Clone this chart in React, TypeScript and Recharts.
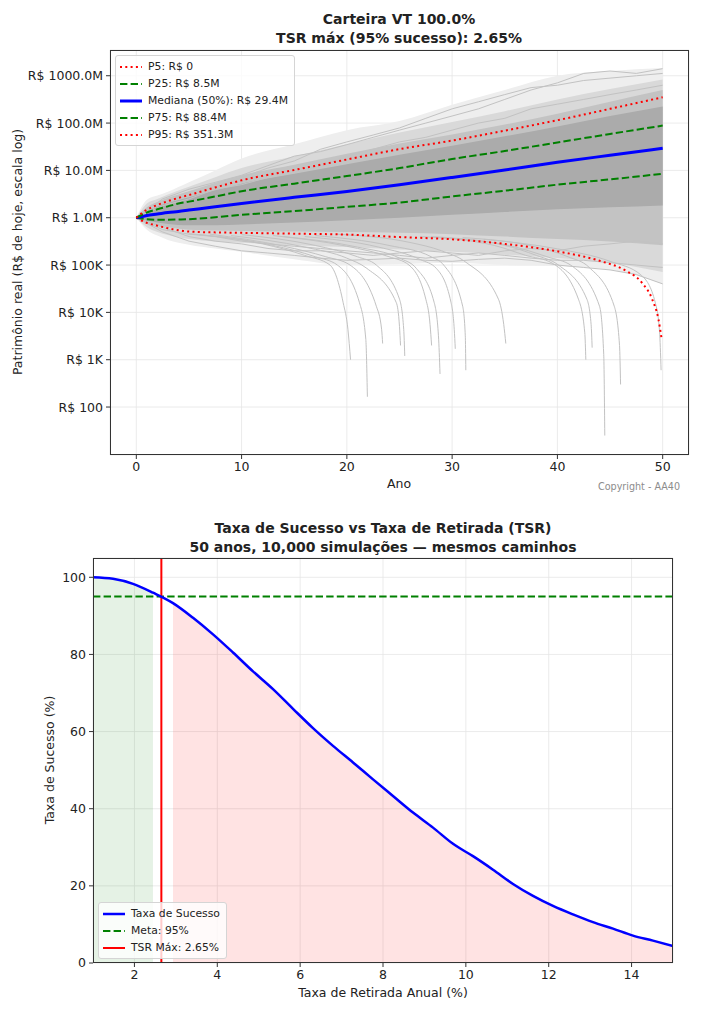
import {
  ComposedChart,
  Line,
  Area,
  XAxis,
  YAxis,
  CartesianGrid,
  Legend,
  ReferenceLine,
} from "recharts"

const FONT = "'DejaVu Sans', sans-serif"
const TEXT = "#222"

// ---------- top panel: simulated trajectories (R$ reais) ----------
const YEARS = [0, 1, 2, 3, 4, 5, 7.5, 10, 15, 20, 25, 30, 35, 40, 45, 50]
const P25 = [1.0e6, 0.93e6, 0.91e6, 0.91e6, 0.92e6, 0.93e6, 1.02e6, 1.15e6, 1.38e6, 1.7e6, 2.09e6, 2.82e6, 3.72e6, 5.0e6, 6.46e6, 8.5e6]
const MEDIAN = [1.0e6, 1.12e6, 1.2e6, 1.29e6, 1.36e6, 1.45e6, 1.7e6, 2.0e6, 2.7e6, 3.6e6, 5.0e6, 7.1e6, 10.2e6, 14.8e6, 20.9e6, 29.4e6]
const P75 = [1.0e6, 1.29e6, 1.51e6, 1.74e6, 2.0e6, 2.19e6, 2.82e6, 3.63e6, 5.25e6, 7.6e6, 11.2e6, 17.4e6, 25.7e6, 38.9e6, 58.9e6, 88.4e6]
const P95 = [1.0e6, 1.48e6, 1.86e6, 2.24e6, 2.63e6, 3.02e6, 4.37e6, 6.17e6, 10.2e6, 17.0e6, 28.2e6, 42.7e6, 69.2e6, 115e6, 200e6, 351.3e6]

const P5_YEARS = [0, 1, 2, 3, 5, 7.5, 10, 15, 20, 25, 30, 35, 40, 44, 46.5, 48, 49, 49.6, 49.9]
const P5 = [1.0e6, 0.78e6, 0.68e6, 0.6e6, 0.51e6, 0.49e6, 0.48e6, 0.46e6, 0.44e6, 0.39e6, 0.35e6, 0.28e6, 0.195e6, 0.123e6, 76e3, 43e3, 19e3, 7.1e3, 2.75e3]

// gray cloud of paths, from the sparse outer envelope to the dense core
const CLOUD_YEARS = [0, 1, 2, 3, 5, 7.5, 10, 15, 20, 25, 30, 35, 40, 45, 50]
const OUTER_HI = [1.0e6, 2.4e6, 2.95e6, 3.55e6, 5.6e6, 10e6, 17.8e6, 35.5e6, 70.8e6, 110e6, 245e6, 500e6, 1000e6, 1260e6, 1450e6]
const OUTER_LO = [1.0e6, 5.6e5, 4.2e5, 3.4e5, 2.7e5, 2.24e5, 1.9e5, 1.32e5, 1.0e5, 1.05e5, 1.12e5, 1.0e5, 0.95e5, 0.8e5, 0.4e5]
const WIDE_HI = [1.0e6, 2.0e6, 2.5e6, 3.1e6, 4.5e6, 7.2e6, 11.2e6, 20e6, 35.5e6, 63e6, 105e6, 178e6, 316e6, 525e6, 832e6]
const WIDE_LO = [1.0e6, 6.3e5, 5.0e5, 4.3e5, 3.55e5, 3.16e5, 2.95e5, 2.63e5, 2.4e5, 2.14e5, 1.9e5, 1.66e5, 1.41e5, 1.12e5, 7.1e4]
const DENSE_HI = [1.0e6, 1.66e6, 2.14e6, 2.63e6, 3.63e6, 5.5e6, 7.9e6, 13.2e6, 22.4e6, 37.2e6, 57.5e6, 93e6, 158e6, 282e6, 500e6]
const DENSE_LO = [1.0e6, 7.9e5, 6.9e5, 6.3e5, 5.6e5, 5.4e5, 5.25e5, 5.1e5, 5.0e5, 4.8e5, 4.5e5, 4.0e5, 3.55e5, 3.16e5, 2.63e5]
const CORE_HI = [1.0e6, 1.38e6, 1.74e6, 2.04e6, 2.7e6, 3.8e6, 5.25e6, 8.5e6, 13.5e6, 21.4e6, 33e6, 52.5e6, 85e6, 141e6, 224e6]
const CORE_LO = [1.0e6, 8.7e5, 7.9e5, 7.4e5, 6.9e5, 6.9e5, 7.2e5, 7.9e5, 8.9e5, 1.0e6, 1.15e6, 1.32e6, 1.51e6, 1.66e6, 1.82e6]

// a few individual outlying paths, sampled every 2.5 years
const SAMPLE_YEARS = [0, 2.5, 5, 7.5, 10, 12.5, 15, 17.5, 20, 22.5, 25, 27.5, 30, 32.5, 35, 37.5, 40, 42.5, 45, 47.5, 50]
const SAMPLE_PATHS: number[][] = [
  [1e6, 2.5e6, 4e6, 5.6e6, 7.9e6, 12.6e6, 20e6, 25e6, 35e6, 50e6, 71e6, 100e6, 141e6, 200e6, 316e6, 500e6, 708e6, 1120e6, 1260e6, 1120e6, 1410e6],
  [1e6, 2e6, 3.5e6, 4.5e6, 7.1e6, 11.2e6, 15.8e6, 28e6, 40e6, 56e6, 79e6, 126e6, 200e6, 282e6, 400e6, 562e6, 631e6, 794e6, 891e6, 1000e6, 1120e6],
  [1e6, 1.8e6, 2.5e6, 4e6, 5e6, 7.1e6, 8.9e6, 12.6e6, 20e6, 28e6, 40e6, 50e6, 71e6, 100e6, 126e6, 200e6, 251e6, 316e6, 400e6, 500e6, 631e6],
  [1e6, 5e5, 3.2e5, 2.5e5, 2e5, 1.8e5, 1.6e5, 1.4e5, 1.26e5, 1.32e5, 1.4e5, 1.26e5, 1.2e5, 1.32e5, 1.4e5, 1.26e5, 1e5, 8.9e4, 7.9e4, 6.3e4, 4e4],
  [1e6, 6.3e5, 4e5, 3.2e5, 2.8e5, 2.24e5, 2e5, 2e5, 1.8e5, 1.6e5, 1.8e5, 2e5, 1.8e5, 1.6e5, 2e5, 2.24e5, 2e5, 2.5e5, 2.8e5, 3.2e5, 2.8e5],
  [1e6, 5.6e5, 4.5e5, 4e5, 3.2e5, 2.8e5, 2.5e5, 2.24e5, 2e5, 1.8e5, 1.6e5, 1.4e5, 1.6e5, 1.8e5, 1.6e5, 1.4e5, 1.26e5, 1.26e5, 1.12e5, 1e5, 8.9e4],
]

// paths that run out of money: [ano, patrimônio]
const FAILED_PATHS: [number, number][][] = [
  [[5, 4.6e5], [12, 2.8e5], [16, 1.6e5], [18.4, 1.0e5], [19.65, 1.6e4], [20.1, 4.4e3], [20.35, 1.0e3]],
  [[6, 4.4e5], [13, 2.6e5], [17, 1.5e5], [19.1, 1.0e5], [21.2, 1.6e4], [21.8, 2.7e3], [21.95, 165]],
  [[7, 4.5e5], [14, 2.5e5], [18, 1.5e5], [20.3, 1.0e5], [22.8, 1.35e4], [23.3, 4.4e3], [23.4, 2.2e3]],
  [[9, 4.2e5], [16, 2.4e5], [20, 1.4e5], [21.9, 0.85e5], [24.7, 1.6e4], [25.0, 5.0e3], [25.1, 2.0e3]],
  [[10, 4.4e5], [17, 2.6e5], [21, 1.5e5], [22.8, 1.0e5], [25.0, 1.9e4], [25.4, 4.4e3], [25.5, 1.2e3]],
  [[13, 4.2e5], [20, 2.5e5], [24, 1.5e5], [25.9, 1.0e5], [27.5, 1.9e4], [27.9, 5.6e3], [28.05, 2.0e3]],
  [[14, 4.0e5], [21, 2.4e5], [25, 1.4e5], [26.6, 0.85e5], [28.3, 1.6e4], [28.7, 3.2e3], [28.85, 500]],
  [[16, 4.0e5], [23, 2.4e5], [27, 1.3e5], [28.5, 0.85e5], [29.9, 1.6e4], [30.2, 4.4e3], [30.3, 1.7e3]],
  [[17, 4.2e5], [24, 2.6e5], [28, 1.5e5], [29.2, 1.0e5], [31.0, 1.35e4], [31.25, 3.2e3], [31.3, 600]],
  [[19, 4.5e5], [26, 3.0e5], [29, 2.0e5], [31.3, 1.15e5], [34.4, 1.9e4], [34.9, 5.6e3], [35.1, 2.2e3]],
  [[27, 4.0e5], [34, 2.6e5], [37, 1.6e5], [39.5, 1.1e5], [42.0, 1.9e4], [42.6, 3.7e3], [42.7, 1.0e3]],
  [[28, 4.0e5], [35, 2.6e5], [38, 1.6e5], [40.1, 1.0e5], [42.8, 1.9e4], [43.2, 5.6e3], [43.3, 1.8e3]],
  [[29, 3.8e5], [36, 2.4e5], [39, 1.5e5], [41.4, 0.95e5], [44.0, 1.35e4], [44.4, 1.3e3], [44.5, 25]],
  [[31, 3.8e5], [38, 2.4e5], [41, 1.5e5], [43.0, 0.9e5], [45.4, 1.35e4], [45.9, 2.0e3], [46.0, 300]],
  [[33, 3.5e5], [40, 2.2e5], [45, 1.2e5], [48, 0.6e5], [49.3, 1.6e4], [49.7, 4.0e3], [49.85, 600]],
]

const YEAR_TICKS = [0, 10, 20, 30, 40, 50]
const Y_TICKS = [100, 1e3, 1e4, 1e5, 1e6, 1e7, 1e8, 1e9]
const Y_TICK_LABELS = ["R$ 100", "R$ 1K", "R$ 10K", "R$ 100K", "R$ 1.0M", "R$ 10.0M", "R$ 100.0M", "R$ 1000.0M"]
const DECADES = [10, 100, 1e3, 1e4, 1e5, 1e6, 1e7, 1e8, 1e9]
const MINOR_MULTIPLES = [2, 3, 4, 5, 6, 7, 8, 9]
const Y_DOMAIN: [number, number] = [9.7, 3.5e9]

// ---------- bottom panel: success rate vs withdrawal rate ----------
const TSR = [1.0, 1.483, 1.966, 2.448, 2.931, 3.414, 3.897, 4.379, 4.862, 5.345, 5.828, 6.31, 6.793, 7.276, 7.759, 8.241, 8.724, 9.207, 9.69, 10.172, 10.655, 11.138, 11.621, 12.103, 12.586, 13.069, 13.552, 14.034, 14.517, 15.0]
const SUCCESS = [100.0, 99.6, 98.3, 96.0, 93.3, 89.5, 85.2, 80.5, 75.6, 71.0, 65.9, 60.9, 56.3, 52.0, 47.6, 43.3, 39.0, 35.1, 30.9, 27.7, 24.2, 20.5, 17.4, 14.8, 12.6, 10.6, 8.9, 7.1, 5.8, 4.4]
const META = 95
const TSR_MAX = 2.65
const TSR_TICKS = [2, 4, 6, 8, 10, 12, 14]
const SUCCESS_TICKS = [0, 20, 40, 60, 80, 100]

const DOTTED = "2 3.3"
const DASHED = "7.4 3.2"

const pts = (xs: number[], ys: number[]) => xs.map((x, i) => ({ x, y: ys[i] }))

const cloudRows = CLOUD_YEARS.map((x, i) => ({
  x,
  outer: [OUTER_LO[i], OUTER_HI[i]],
  wide: [WIDE_LO[i], WIDE_HI[i]],
  dense: [DENSE_LO[i], DENSE_HI[i]],
  core: [CORE_LO[i], CORE_HI[i]],
}))

const successRows = TSR.map((x, i) => ({
  x,
  y: SUCCESS[i],
  ok: SUCCESS[i] >= META ? SUCCESS[i] : null,
  fail: SUCCESS[i] < META ? SUCCESS[i] : null,
}))

const minorTicks = DECADES.flatMap((d) => MINOR_MULTIPLES.map((m) => m * d)).filter(
  (v) => v > Y_DOMAIN[0] && v < Y_DOMAIN[1],
)

function yLabel(v: number) {
  const i = Y_TICKS.findIndex((t) => Math.abs(Math.log10(t) - Math.log10(v)) < 1e-6)
  return i >= 0 ? Y_TICK_LABELS[i] : ""
}

// plain svg text so recharts does not wrap "R$ 1000.0M"
function MoneyTick(props: any) {
  const { x, y, payload } = props
  return (
    <text x={x} y={y} dy="0.36em" textAnchor="end" fill={TEXT} fontSize={12.5} fontFamily={FONT}>
      {yLabel(payload.value)}
    </text>
  )
}

type LegendItem = { label: string; color: string; width: number; dash?: string }

const TOP_LEGEND: LegendItem[] = [
  { label: "P5: R$ 0", color: "#ff0000", width: 2, dash: DOTTED },
  { label: "P25: R$ 8.5M", color: "#008000", width: 2, dash: DASHED },
  { label: "Mediana (50%): R$ 29.4M", color: "#0000ff", width: 3 },
  { label: "P75: R$ 88.4M", color: "#008000", width: 2, dash: DASHED },
  { label: "P95: R$ 351.3M", color: "#ff0000", width: 2, dash: DOTTED },
]

const BOTTOM_LEGEND: LegendItem[] = [
  { label: "Taxa de Sucesso", color: "#0000ff", width: 2.5 },
  { label: "Meta: 95%", color: "#008000", width: 2, dash: DASHED },
  { label: "TSR Máx: 2.65%", color: "#ff0000", width: 2 },
]

function LegendBox({ items }: { items: LegendItem[] }) {
  return (
    <div
      style={{
        background: "rgba(255,255,255,0.8)",
        border: "1px solid #d5d5d5",
        borderRadius: 3,
        padding: "2px 6px 2px 4px",
        fontFamily: FONT,
        fontSize: 10.8,
        color: TEXT,
        whiteSpace: "nowrap",
      }}
    >
      {items.map((it) => (
        <div key={it.label} style={{ display: "flex", alignItems: "center", height: 17 }}>
          <svg width={22} height={8} style={{ flex: "none" }}>
            <line x1={0} x2={22} y1={4} y2={4} stroke={it.color} strokeWidth={it.width} strokeDasharray={it.dash} />
          </svg>
          <span style={{ marginLeft: 6 }}>{it.label}</span>
        </div>
      ))}
    </div>
  )
}

const tickStyle = { fill: TEXT, fontSize: 12.5, fontFamily: FONT }

function Frame({ left, top, width, height }: { left: number; top: number; width: number; height: number }) {
  return (
    <div
      style={{
        position: "absolute",
        left,
        top,
        width,
        height,
        border: "1px solid #333",
        boxSizing: "border-box",
        pointerEvents: "none",
      }}
    />
  )
}

function Txt({
  x,
  y,
  children,
  size = 12.5,
  bold = false,
  rotate = false,
  color = TEXT,
}: {
  x: number
  y: number
  children: React.ReactNode
  size?: number
  bold?: boolean
  rotate?: boolean
  color?: string
}) {
  return (
    <div
      style={{
        position: "absolute",
        left: x,
        top: y,
        transform: `translate(-50%, -50%)${rotate ? " rotate(-90deg)" : ""}`,
        fontFamily: FONT,
        fontSize: size,
        fontWeight: bold ? "bold" : "normal",
        color,
        whiteSpace: "nowrap",
        lineHeight: 1,
      }}
    >
      {children}
    </div>
  )
}

const band = (key: string, fill: string) => (
  <Area
    key={key}
    yAxisId="main"
    type="monotone"
    dataKey={key}
    stroke="none"
    fill={fill}
    fillOpacity={1}
    isAnimationActive={false}
    legendType="none"
    activeDot={false}
  />
)

function TrajectoryChart() {
  return (
    <ComposedChart width={708} height={500} data={cloudRows} margin={{ top: 50, right: 19, bottom: 15, left: 50 }}>
      <YAxis
        yAxisId="minor"
        width={0}
        type="number"
        scale="log"
        domain={Y_DOMAIN}
        allowDataOverflow
        ticks={minorTicks}
        interval={0}
        tick={false}
        tickSize={2}
        axisLine={false}
        tickLine={{ stroke: "#333" }}
      />
      <YAxis
        yAxisId="main"
        width={60}
        type="number"
        scale="log"
        domain={Y_DOMAIN}
        allowDataOverflow
        ticks={Y_TICKS}
        interval={0}
        tick={<MoneyTick />}
        tickSize={4}
        tickMargin={3}
        axisLine={false}
        tickLine={{ stroke: "#333" }}
      />
      <XAxis
        dataKey="x"
        type="number"
        domain={[-2.5, 52.5]}
        allowDataOverflow
        ticks={YEAR_TICKS}
        interval={0}
        tick={tickStyle}
        tickSize={4}
        tickMargin={3}
        axisLine={false}
        tickLine={{ stroke: "#333" }}
      />
      <CartesianGrid yAxisId="main" stroke="#e6e6e6" strokeWidth={0.8} />

      {band("outer", "#eeeeee")}
      {band("wide", "#d9d9d9")}
      {band("dense", "#c3c3c3")}
      {band("core", "#ababab")}

      {SAMPLE_PATHS.map((ys, i) => (
        <Line
          key={`path-${i}`}
          yAxisId="main"
          data={pts(SAMPLE_YEARS, ys)}
          dataKey="y"
          type="linear"
          stroke="#c2c2c2"
          strokeWidth={1}
          dot={false}
          activeDot={false}
          legendType="none"
          isAnimationActive={false}
        />
      ))}

      {FAILED_PATHS.map((path, i) => (
        <Line
          key={`fail-${i}`}
          yAxisId="main"
          data={path.map(([x, y]) => ({ x, y }))}
          dataKey="y"
          type="monotone"
          stroke="#c2c2c2"
          strokeWidth={1}
          dot={false}
          activeDot={false}
          legendType="none"
          isAnimationActive={false}
        />
      ))}

      <Line yAxisId="main" data={pts(P5_YEARS, P5)} dataKey="y" type="monotone" stroke="#ff0000" strokeWidth={2} strokeDasharray={DOTTED} dot={false} activeDot={false} isAnimationActive={false} />
      <Line yAxisId="main" data={pts(YEARS, P25)} dataKey="y" type="monotone" stroke="#008000" strokeWidth={2} strokeDasharray={DASHED} dot={false} activeDot={false} isAnimationActive={false} />
      <Line yAxisId="main" data={pts(YEARS, MEDIAN)} dataKey="y" type="monotone" stroke="#0000ff" strokeWidth={3} dot={false} activeDot={false} isAnimationActive={false} />
      <Line yAxisId="main" data={pts(YEARS, P75)} dataKey="y" type="monotone" stroke="#008000" strokeWidth={2} strokeDasharray={DASHED} dot={false} activeDot={false} isAnimationActive={false} />
      <Line yAxisId="main" data={pts(YEARS, P95)} dataKey="y" type="monotone" stroke="#ff0000" strokeWidth={2} strokeDasharray={DOTTED} dot={false} activeDot={false} isAnimationActive={false} />

      <Legend
        layout="horizontal"
        verticalAlign="middle"
        align="center"
        content={() => <LegendBox items={TOP_LEGEND} />}
        wrapperStyle={{ left: 115, top: 55, width: "auto", height: "auto" }}
      />
    </ComposedChart>
  )
}

function SuccessChart() {
  return (
    <ComposedChart width={708} height={524} data={successRows} margin={{ top: 58, right: 35, bottom: 31, left: 33 }}>
      <XAxis
        dataKey="x"
        type="number"
        domain={[1, 15]}
        allowDataOverflow
        ticks={TSR_TICKS}
        interval={0}
        tick={tickStyle}
        tickSize={4}
        tickMargin={3}
        axisLine={false}
        tickLine={{ stroke: "#333" }}
      />
      <YAxis
        width={60}
        type="number"
        domain={[0, 105]}
        allowDataOverflow
        ticks={SUCCESS_TICKS}
        interval={0}
        tick={tickStyle}
        tickSize={4}
        tickMargin={3}
        axisLine={false}
        tickLine={{ stroke: "#333" }}
      />
      <CartesianGrid stroke="#e6e6e6" strokeWidth={0.8} />
      <Area type="linear" dataKey="ok" stroke="none" fill="#008000" fillOpacity={0.1} isAnimationActive={false} legendType="none" activeDot={false} />
      <Area type="linear" dataKey="fail" stroke="none" fill="#ff0000" fillOpacity={0.11} isAnimationActive={false} legendType="none" activeDot={false} />
      <ReferenceLine y={META} stroke="#008000" strokeWidth={2} strokeDasharray={DASHED} />
      <ReferenceLine x={TSR_MAX} stroke="#ff0000" strokeWidth={2} />
      <Line type="monotone" dataKey="y" stroke="#0000ff" strokeWidth={2.5} dot={false} activeDot={false} isAnimationActive={false} />
      <Legend
        layout="horizontal"
        verticalAlign="middle"
        align="center"
        content={() => <LegendBox items={BOTTOM_LEGEND} />}
        wrapperStyle={{ left: 98, top: 402, width: "auto", height: "auto" }}
      />
    </ComposedChart>
  )
}

export default function App() {
  return (
    <div
      style={{
        position: "absolute",
        left: 0,
        top: 0,
        width: 708,
        height: 1024,
        background: "#fff",
        fontFamily: FONT,
        overflow: "hidden",
      }}
    >
      <div style={{ position: "absolute", left: 0, top: 0 }}>
        <TrajectoryChart />
      </div>
      <Frame left={110} top={50} width={579} height={405} />
      <Txt x={399} y={19} size={14} bold>Carteira VT 100.0%</Txt>
      <Txt x={399} y={38} size={14} bold>TSR máx (95% sucesso): 2.65%</Txt>
      <Txt x={18} y={252} rotate>Patrimônio real (R$ de hoje, escala log)</Txt>
      <Txt x={399} y={484}>Ano</Txt>
      <Txt x={639} y={487} size={9.6} color="#8c8c8c">Copyright - AA40</Txt>

      <div style={{ position: "absolute", left: 0, top: 500 }}>
        <SuccessChart />
      </div>
      <Frame left={93} top={558} width={580} height={405} />
      <Txt x={383} y={528} size={14} bold>Taxa de Sucesso vs Taxa de Retirada (TSR)</Txt>
      <Txt x={383} y={547} size={14} bold>50 anos, 10,000 simulações — mesmos caminhos</Txt>
      <Txt x={50} y={760} rotate>Taxa de Sucesso (%)</Txt>
      <Txt x={383} y={993}>Taxa de Retirada Anual (%)</Txt>
    </div>
  )
}
